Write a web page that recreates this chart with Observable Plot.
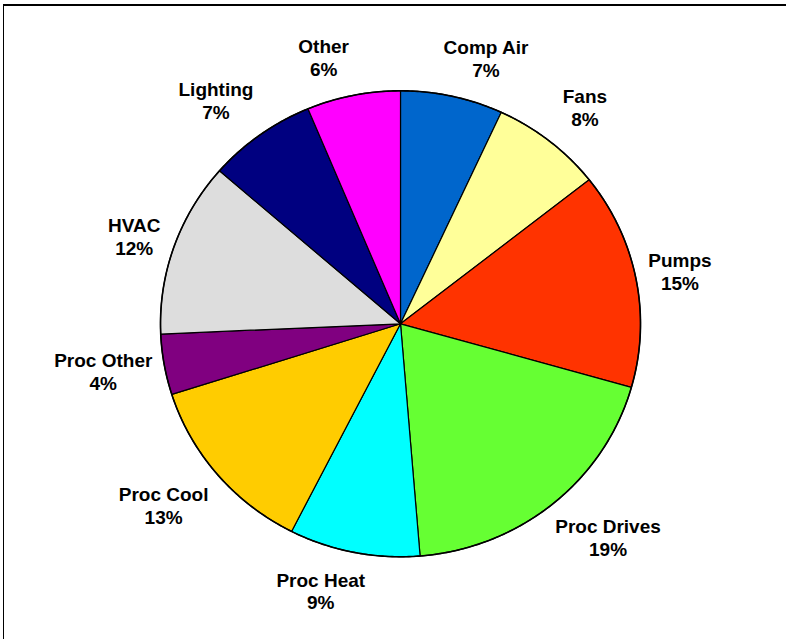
<!DOCTYPE html>
<html>
<head>
<meta charset="utf-8">
<script src="https://cdn.jsdelivr.net/npm/d3@7"></script>
<script src="https://cdn.jsdelivr.net/npm/@observablehq/plot@0.6"></script>
<style>
  html, body { margin: 0; padding: 0; background: #fff; overflow: hidden; }
  #wrap { position: relative; width: 786px; height: 639px; }
  #chart { position: absolute; left: 0; top: 0; }
  #border { position: absolute; left: 3px; top: 4px; width: 900px; height: 800px;
            border-left: 1.5px solid #000; border-top: 2px solid #000; pointer-events: none; }
</style>
</head>
<body>
<div id="wrap"><div id="chart"></div><div id="border"></div></div>
<script>
// ---- data ----
const categories = ["Comp Air", "Fans", "Pumps", "Proc Drives", "Proc Heat", "Proc Cool", "Proc Other", "HVAC", "Lighting", "Other"];
const shares     = [6.9, 7.5, 15.0, 19.3, 8.8, 12.6, 4.2, 12.1, 7.3, 6.3];
const colors     = ["#0066CC", "#FFFF99", "#FF3300", "#66FF33", "#00FFFF", "#FFCC00", "#800080", "#DDDDDD", "#000080", "#FF00FF"];

// ---- layout ----
const W = 786, H = 639;
const cx = 400, cy = 323.3, rx = 240, ry = 233;
const fontSize = 19, lineH = 1.2;
const font = `bold ${fontSize}px 'Liberation Sans', Arial, sans-serif`;

const projection = d3.geoTransform({
  point(x, y) { this.stream.point(cx + rx * x, cy + ry * y); }
});

const arcs = d3.pie().sort(null).value(d => d.value)(
  categories.map((name, i) => ({name, value: shares[i]}))
);

function ring(a0, a1, withCenter) {
  const n = Math.max(8, Math.ceil((a1 - a0) / 0.01));
  const pts = withCenter ? [[0, 0]] : [];
  for (let k = 0; k <= n; k++) {
    const a = a0 + (a1 - a0) * k / n;
    pts.push([Math.sin(a), -Math.cos(a)]);
  }
  pts.push(pts[0]);
  return pts;
}

const wedges = arcs.map(a => ({
  type: "Feature",
  properties: {name: a.data.name},
  geometry: {type: "Polygon", coordinates: [ring(a.startAngle, a.endAngle, true)]}
}));
const outline = [{type: "Feature", properties: {}, geometry: {type: "Polygon", coordinates: [ring(0, 2 * Math.PI, false)]}}];

// outside-end label placement (box pushed off the rim, spreadsheet style)
const ctx = document.createElement("canvas").getContext("2d");
ctx.font = font;
function smooth(e0, e1, v) { const t = Math.max(0, Math.min(1, (v - e0) / (e1 - e0))); return t * t * (3 - 2 * t); }
const labels = arcs.map(a => {
  const text = `${a.data.name}\n${Math.round(a.data.value)}%`;
  const w = d3.max(text.split("\n"), s => ctx.measureText(s).width);
  const h = 2 * fontSize * lineH;
  const m = (a.startAngle + a.endAngle) / 2;
  const ux = Math.sin(m), uy = -Math.cos(m);
  const dx = ux * w / 2 + Math.sign(ux) * (10 + 15 * Math.abs(uy));
  const dy = uy * h / 2 + Math.sign(uy) * (3 + 13 * smooth(0.35, 0.6, Math.abs(uy)));
  return {text, x: (rx * ux + dx) / rx, y: (ry * uy + dy) / ry};
});

const chart = Plot.plot({
  width: W, height: H, margin: 0,
  projection,
  color: {domain: categories, range: colors},
  style: {background: "transparent", overflow: "visible"},
  marks: [
    Plot.geo(wedges, {fill: d => d.properties.name, stroke: "#000", strokeWidth: 1.2, strokeLinejoin: "round"}),
    Plot.geo(outline, {fill: "none", stroke: "#000", strokeWidth: 1.6}),
    Plot.text(labels, {x: "x", y: "y", text: "text", fill: "#000", fontSize, fontWeight: "bold",
      fontFamily: "'Liberation Sans', Arial, sans-serif", lineHeight: lineH, textAnchor: "middle"})
  ]
});
document.getElementById("chart").appendChild(chart);
</script>
</body>
</html>
